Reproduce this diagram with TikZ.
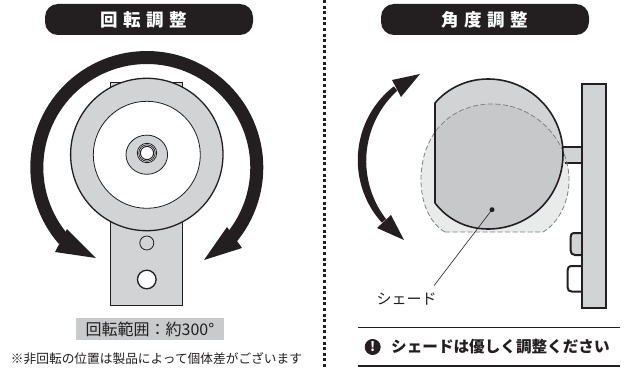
\documentclass[tikz,border=0pt]{standalone}
\usepackage{fontspec}
\setmainfont{Noto Sans CJK JP}
\newfontfamily\jpbold{Noto Sans CJK JP Black}
\definecolor{ink}{HTML}{231F20}
\definecolor{partgray}{HTML}{D1D3D4}
\definecolor{overlapgray}{HTML}{C6C8CA}
\definecolor{ghostgray}{HTML}{E9EAEA}
\definecolor{labelgray}{HTML}{C8CACB}
\tikzset{
  x=1pt,y=-1pt,
  pill/.style={fill=ink,rounded corners=13pt},
  part/.style={draw=ink,line width=1.3pt,fill=partgray},
  thin part/.style={draw=ink,line width=0.8pt},
  heavy/.style={draw=ink,line width=2pt,fill=partgray},
  title/.style={text=white,font=\jpbold\fontsize{17.5}{18}\selectfont,inner sep=0pt},
  rulebar/.style={draw=ink,line width=1.7pt}
}
\begin{document}
\begin{tikzpicture}
\useasboundingbox (0,0) rectangle (627,369);
\fill[white] (0,0) rectangle (627,369);
% titles
\fill[pill] (45,4) rectangle (253,35);
\node[title] (t1) at (144,20) {回\hspace{5.5pt}転\hspace{5.5pt}調\hspace{5.5pt}整};
\fill[pill] (381,4) rectangle (589,35);
\node[title] (t2) at (485,20) {角\hspace{5.5pt}度\hspace{5.5pt}調\hspace{5.5pt}整};
% divider
\draw[ink,line width=3pt,dash pattern=on 3pt off 2.6pt] (324.2,0) -- (324.2,369);
% left device
\draw[part] (110.7,82.7) rectangle (182.7,305.7);
\draw[part] (146.8,154.5) circle (76.2);
\draw[thin part,fill=white] (146.8,154.8) circle (53.5);
\draw[thin part,fill=partgray] (146.8,154.7) ellipse (20.8 and 19.6);
\draw[thin part,fill=white] (147,153) circle (9.7);
\draw[thin part,fill=white] (147,153) circle (8.2);
\draw[thin part,line width=1pt,fill=white] (147,153) circle (6.6);
\draw[thin part,fill=partgray] (146.8,243) circle (7);
\draw[part,fill=white] (146.8,279.5) circle (9.3);
% rotation arrow
\draw[ink,line width=13pt] plot[domain=-221:41,samples=90] ({146.8+110*cos(\x)},{167.5+110*sin(\x)});
\fill[ink] (67,229) -- (55,252) -- (96,258) -- cycle;
\fill[ink] (227,227) -- (242,248) -- (204,260) -- cycle;
% shade ghost
\path[fill=ghostgray] (445,232) .. controls (428,222) and (421,200) .. (421,180)
  .. controls (421,135) and (450,104) .. (492,104)
  .. controls (535,104) and (569,140) .. (569,180)
  .. controls (569,200) and (560,222) .. (543,232) -- cycle;
% neck and plate
\fill[partgray] (560,147) rectangle (582,163);
\draw[ink,line width=1.6pt] (560,147) -- (582,147);
\draw[ink,line width=1.6pt] (565,163) -- (582,163);
\draw[heavy] (582,233) -- (575,233) .. controls (571,233) and (570.5,235) .. (570.5,238) -- (570.5,250) .. controls (570.5,253) and (572,255) .. (575,255) -- (582,255);
\draw[heavy,fill=white] (582,266) -- (572,266) .. controls (568.5,266) and (567.5,268) .. (567.5,271) -- (567.5,287) .. controls (567.5,290) and (569,291.6) .. (572,291.6) -- (582,291.6);
\draw[heavy] (582,84) rectangle (605.5,307.7);
% head
\path[fill=partgray] (435,103) .. controls (448,88) and (467,79) .. (488,79)
  .. controls (530,79) and (563,113) .. (563,154)
  .. controls (563,196) and (530,229) .. (488,229)
  .. controls (467,229) and (448,220) .. (435,203) -- cycle;
\begin{scope}
\clip (421,232) -- (421,180) .. controls (421,135) and (450,104) .. (492,104)
  .. controls (535,104) and (569,140) .. (569,180) -- (569,232) -- cycle;
\fill[overlapgray] (435,103) .. controls (448,88) and (467,79) .. (488,79)
  .. controls (530,79) and (563,113) .. (563,154)
  .. controls (563,196) and (530,229) .. (488,229)
  .. controls (467,229) and (448,220) .. (435,203) -- cycle;
\end{scope}
\draw[gray,line width=0.8pt,dash pattern=on 5pt off 2.5pt] (445,232) .. controls (428,222) and (421,200) .. (421,180)
  .. controls (421,135) and (450,104) .. (492,104)
  .. controls (535,104) and (569,140) .. (569,180)
  .. controls (569,200) and (560,222) .. (543,232) -- cycle;
\draw[ink,line width=1.6pt,line join=round] (435,103) .. controls (448,88) and (467,79) .. (488,79)
  .. controls (530,79) and (563,113) .. (563,154)
  .. controls (563,196) and (530,229) .. (488,229)
  .. controls (467,229) and (448,220) .. (435,203) -- cycle;
% tilt arrow
\fill[ink] plot[domain=140:230,samples=40] ({456+(94+(8.5-3*((\x-185)/45)^2)/2)*cos(\x)},{160.5+(94+(8.5-3*((\x-185)/45)^2)/2)*sin(\x)})
  -- plot[domain=230:140,samples=40] ({456+(94-(8.5-3*((\x-185)/45)^2)/2)*cos(\x)},{160.5+(94-(8.5-3*((\x-185)/45)^2)/2)*sin(\x)}) -- cycle;
\fill[ink] (392,80) -- (420,74) -- (401,97) -- cycle;
\fill[ink] (377,228) -- (404,240) -- (391,215) -- cycle;
% leader
\coordinate (leaderEnd) at (434,285.7);
\coordinate (leaderDot) at (492,209.7);
\fill[ink] (leaderDot) circle (2.5);
\draw[ink,line width=0.6pt] (leaderDot) -- (leaderEnd);
\node[inner sep=0pt,font=\fontsize{15}{16}\selectfont,text=ink] (shade) at (406.5,299) {シェード};
% range label
\node[fill=labelgray,minimum width=148pt,minimum height=22pt,inner sep=0pt,font=\fontsize{16}{17}\selectfont,text=ink] (range) at (150,329) {回転範囲：約300°};
\node[inner sep=0pt,font=\fontsize{12.7}{14}\selectfont,text=ink] (note) at (156.5,359) {※非回転の位置は製品によって個体差がございます};
% caution
\coordinate (r1a) at (357.7,327.5); \coordinate (r1b) at (620,327.5);
\coordinate (r2a) at (357.7,365.7); \coordinate (r2b) at (620,365.7);
\draw[rulebar] (r1a) -- (r1b);
\draw[rulebar] (r2a) -- (r2b);
\node[circle,fill=ink,minimum size=16pt,inner sep=0pt,text=white,font=\jpbold\fontsize{13}{14}\selectfont] (warn) at (372.7,347) {!};
\node[inner sep=0pt,anchor=west,font=\jpbold\fontsize{15.6}{16}\selectfont,text=ink] (caution) at (391,347) {シェードは優しく調整ください};
\end{tikzpicture}
\end{document}
